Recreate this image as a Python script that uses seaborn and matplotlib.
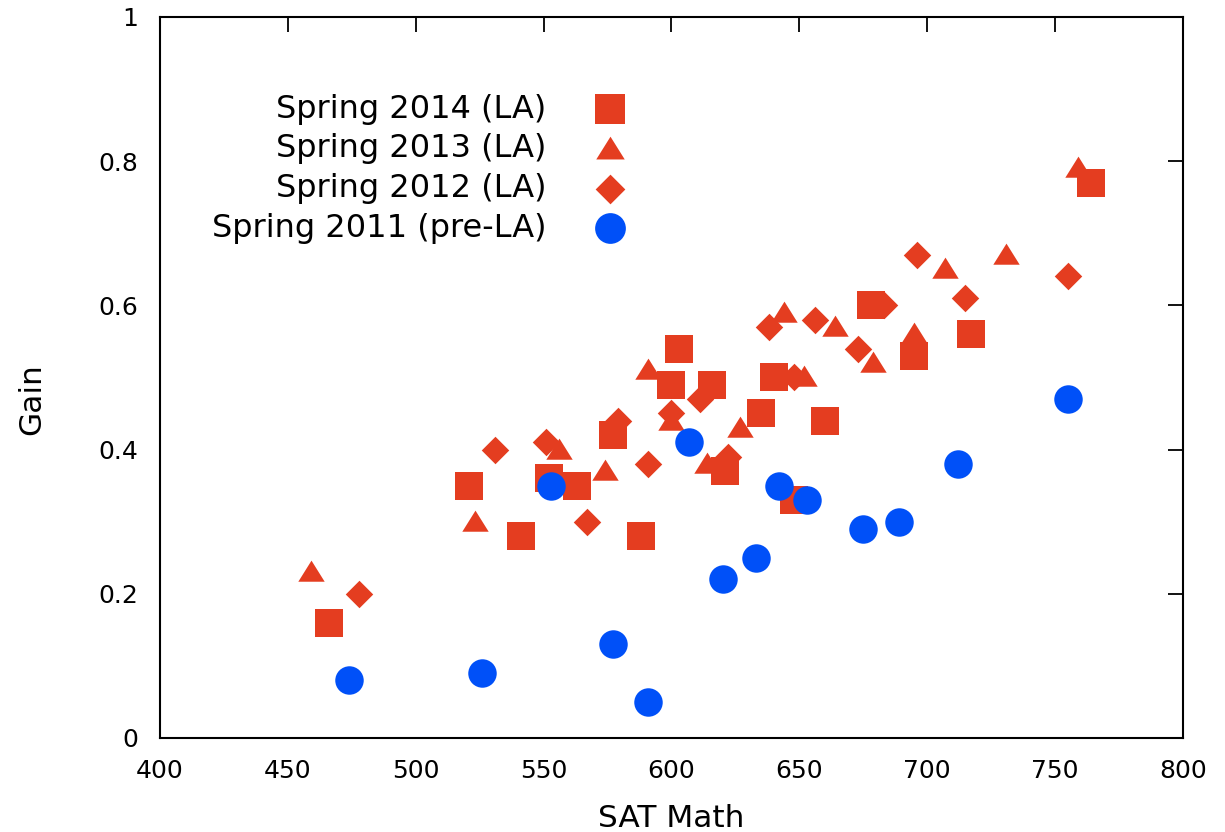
import matplotlib
matplotlib.use("Agg")
import matplotlib.pyplot as plt
import seaborn as sns
import pandas as pd
from matplotlib.path import Path

# ---- data ----
sat_2014 = [466, 521, 541, 552, 563, 577, 588, 600, 603, 616, 621, 635, 640, 648, 660, 678, 695, 717, 764]
gain_2014 = [0.16, 0.35, 0.28, 0.36, 0.35, 0.42, 0.28, 0.49, 0.54, 0.49, 0.37, 0.45, 0.50, 0.33, 0.44, 0.60, 0.53, 0.56, 0.77]

sat_2013 = [459, 523, 556, 574, 591, 600, 614, 627, 644, 652, 664, 679, 695, 707, 731, 759]
gain_2013 = [0.23, 0.30, 0.40, 0.37, 0.51, 0.44, 0.38, 0.43, 0.59, 0.50, 0.57, 0.52, 0.56, 0.65, 0.67, 0.79]

sat_2012 = [478, 531, 551, 567, 579, 591, 600, 611, 622, 638, 648, 656, 673, 683, 696, 715, 755]
gain_2012 = [0.20, 0.40, 0.41, 0.30, 0.44, 0.38, 0.45, 0.47, 0.39, 0.57, 0.50, 0.58, 0.54, 0.60, 0.67, 0.61, 0.64]

sat_2011 = [474, 526, 553, 577, 591, 607, 620, 633, 642, 653, 675, 689, 712, 755]
gain_2011 = [0.08, 0.09, 0.35, 0.13, 0.05, 0.41, 0.22, 0.25, 0.35, 0.33, 0.29, 0.30, 0.38, 0.47]

labels = ["Spring 2014 (LA)", "Spring 2013 (LA)", "Spring 2012 (LA)", "Spring 2011 (pre-LA)"]
x_ticks = [400, 450, 500, 550, 600, 650, 700, 750, 800]
y_ticks = [0, 0.2, 0.4, 0.6, 0.8, 1]
y_tick_labels = ["0", "0.2", "0.4", "0.6", "0.8", "1"]

RED = "#E43D20"
BLUE = "#0050F8"

tri = Path([(-1, -0.7), (1, -0.7), (0, 0.9), (-1, -0.7)],
           [Path.MOVETO, Path.LINETO, Path.LINETO, Path.CLOSEPOLY])

series = [
    (sat_2014, gain_2014, labels[0], "s", RED, 19.5),
    (sat_2013, gain_2013, labels[1], tri, RED, 19.0),
    (sat_2012, gain_2012, labels[2], "D", RED, 14.0),
    (sat_2011, gain_2011, labels[3], "o", BLUE, 20.5),
]

sns.set_style("white")
plt.rcParams["font.family"] = ["DejaVu Sans"]
plt.rcParams["text.color"] = "black"
plt.rcParams["axes.labelcolor"] = "black"

fig = plt.figure(figsize=(12.25, 8.32), dpi=100)
ax = fig.add_axes([0.1306, 0.113, 0.835, 0.8667])

for xs, ys, lab, mk, col, ms in series:
    df = pd.DataFrame({"SAT Math": xs, "Gain": ys})
    sns.scatterplot(data=df, x="SAT Math", y="Gain", ax=ax, marker=mk,
                    color=col, s=ms ** 2, linewidth=0, label=lab)

ax.set_xlim(400, 800)
ax.set_ylim(0, 1)
ax.set_xticks(x_ticks)
ax.set_xticklabels([str(t) for t in x_ticks])
ax.set_yticks(y_ticks)
ax.set_yticklabels(y_tick_labels)
ax.tick_params(direction="in", length=11, width=1.3, top=True, right=True,
               labelsize=18, color="black", labelcolor="black")
ax.tick_params(axis="x", pad=15)
ax.tick_params(axis="y", pad=16)
for sp in ax.spines.values():
    sp.set_visible(True)
    sp.set_color("black")
    sp.set_linewidth(1.5)

ax.set_xlabel("SAT Math", fontsize=22.5, labelpad=15)
ax.set_ylabel("Gain", fontsize=22.5)
ax.yaxis.set_label_coords(-0.111, 0.47)

leg = ax.legend(loc="upper right", bbox_to_anchor=(0.484, 0.911), frameon=False,
                markerfirst=False, fontsize=23, handletextpad=1.0,
                labelspacing=0.27, borderaxespad=0, markerscale=1.08)
for col in leg._legend_handle_box.get_children():
    col.align = "right"
for t in leg.get_texts():
    t.set_color("black")

fig.savefig("out.png", dpi=100)
